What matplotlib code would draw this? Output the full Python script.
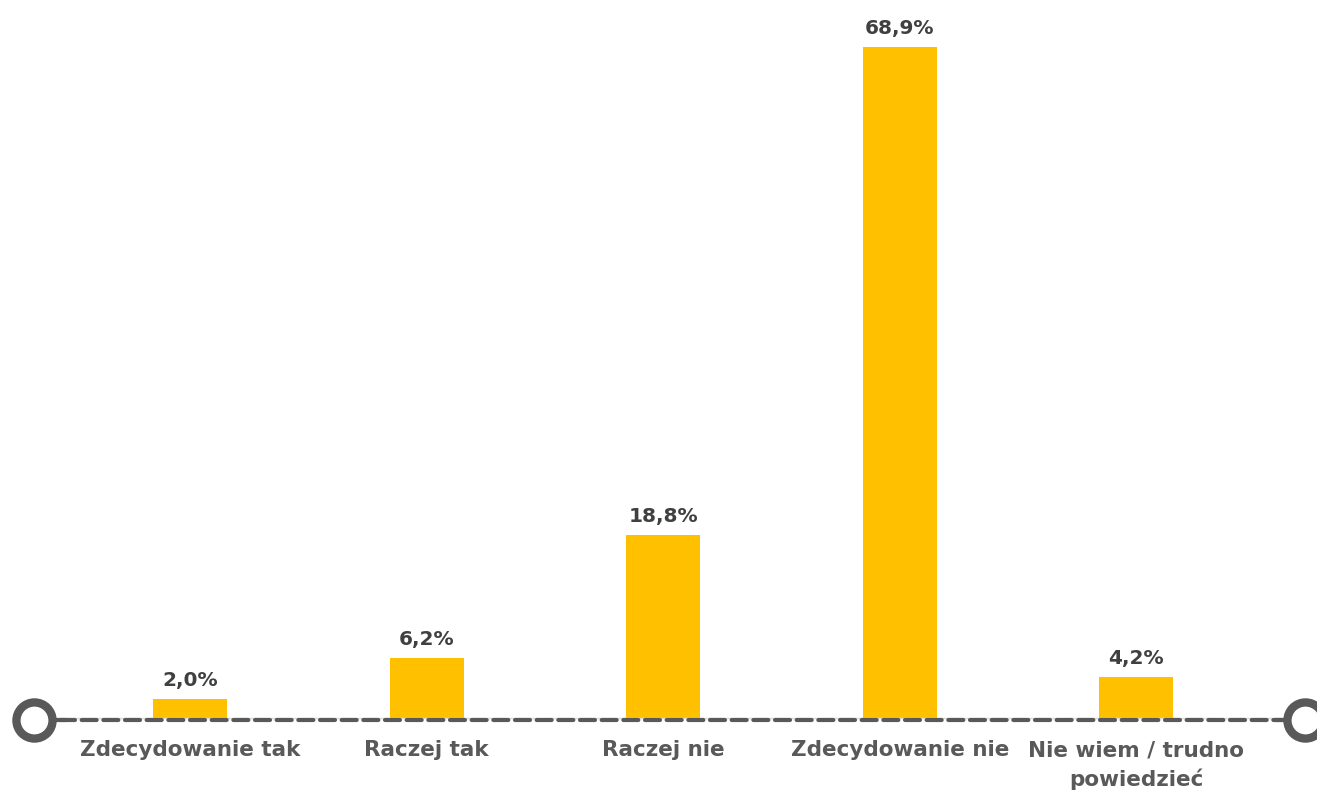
import numpy as np
import matplotlib.pyplot as plt
from matplotlib.lines import Line2D

categories = ["Zdecydowanie tak", "Raczej tak", "Raczej nie", "Zdecydowanie nie", "Nie wiem / trudno\npowiedzieć"]
values = [2.0, 6.2, 18.8, 68.9, 4.2]
labels = ["2,0%", "6,2%", "18,8%", "68,9%", "4,2%"]

W, H = 1317, 795
fig = plt.figure(figsize=(W / 100, H / 100), dpi=100)
plt.rcParams['font.family'] = ['DejaVu Sans']

base = 718
px_per = 9.74
ymax = 72
left, right = 72, 1254.5
ax = fig.add_axes([left / W, (H - base) / H, (right - left) / W, ymax * px_per / H])

x = np.arange(len(categories))
ax.bar(x, values, width=74 / 236.5, color="#FFC000", zorder=2)
for xi, v, t in zip(x, values, labels):
    ax.text(xi, v + 0.9, t, ha="center", va="bottom", fontsize=14.5, fontweight="bold", color="#404040")

ax.set_xlim(-0.5, len(categories) - 0.5)
ax.set_ylim(0, ymax)
ax.set_xticks(x)
ax.set_xticklabels(categories, fontsize=15.5, fontweight="bold", color="#595959", linespacing=1.45)
ax.tick_params(axis="x", length=0, pad=16)
ax.set_yticks([])
for s in ax.spines.values():
    s.set_visible(False)

# axis line with dashes and end circles, in pixel coords
def fx(p):
    return p / W

yl = (H - 720) / H
fig.add_artist(Line2D([fx(57), fx(1285)], [(H - 718) / H] * 2, color="#D9D9D9", lw=1, zorder=2.5))
fig.add_artist(Line2D([fx(60), fx(1282)], [yl, yl], color="#595959", lw=3,
                      linestyle=(0, (3.6, 1.6)), dash_capstyle="round", zorder=3))
fig.add_artist(Line2D([fx(50), fx(64)], [yl, yl], color="#595959", lw=3, zorder=3))
fig.add_artist(Line2D([fx(1278), fx(1292)], [yl, yl], color="#595959", lw=3, zorder=3))
for cx in (34, 1305):
    fig.add_artist(Line2D([fx(cx)], [yl], marker="o", markersize=26, markeredgewidth=6,
                          markerfacecolor="white", markeredgecolor="#595959", zorder=4))

fig.savefig("out.png", dpi=100)
